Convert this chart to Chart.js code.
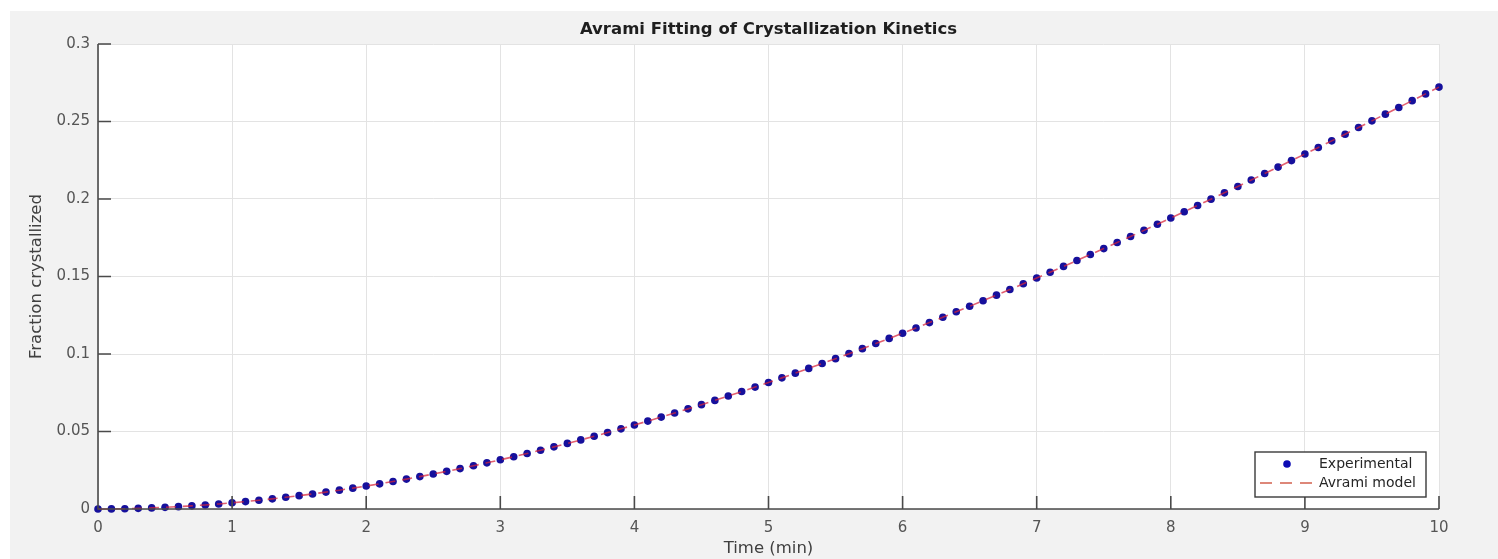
<!DOCTYPE html>
<html>
<head>
<meta charset="utf-8">
<script src="https://cdn.jsdelivr.net/npm/chart.js@4.4.0/dist/chart.umd.min.js"></script>
<style>
html,body{margin:0;padding:0;background:#fff;}
#wrap{width:1498px;height:559px;}
</style>
</head>
<body>
<div id="wrap"><canvas id="avramiChart" width="1498" height="559"></canvas></div>
<script>
// time samples (min)
const timeMin = [
  0, 0.1, 0.2, 0.3, 0.4, 0.5, 0.6, 0.7, 0.8, 0.9,
  1, 1.1, 1.2, 1.3, 1.4, 1.5, 1.6, 1.7, 1.8, 1.9,
  2, 2.1, 2.2, 2.3, 2.4, 2.5, 2.6, 2.7, 2.8, 2.9,
  3, 3.1, 3.2, 3.3, 3.4, 3.5, 3.6, 3.7, 3.8, 3.9,
  4, 4.1, 4.2, 4.3, 4.4, 4.5, 4.6, 4.7, 4.8, 4.9,
  5, 5.1, 5.2, 5.3, 5.4, 5.5, 5.6, 5.7, 5.8, 5.9,
  6, 6.1, 6.2, 6.3, 6.4, 6.5, 6.6, 6.7, 6.8, 6.9,
  7, 7.1, 7.2, 7.3, 7.4, 7.5, 7.6, 7.7, 7.8, 7.9,
  8, 8.1, 8.2, 8.3, 8.4, 8.5, 8.6, 8.7, 8.8, 8.9,
  9, 9.1, 9.2, 9.3, 9.4, 9.5, 9.6, 9.7, 9.8, 9.9,
  10
];

// measured fraction crystallized (dots)
const fracExperimental = [
  0, 0.00005, 0.00019, 0.00041, 0.00070, 0.00107, 0.00151, 0.00203, 0.00261, 0.00327,
  0.00399, 0.00478, 0.00564, 0.00656, 0.00755, 0.00860, 0.00972, 0.01090, 0.01215, 0.01345,
  0.01482, 0.01624, 0.01773, 0.01928, 0.02089, 0.02255, 0.02428, 0.02606, 0.02789, 0.02979,
  0.03174, 0.03375, 0.03581, 0.03792, 0.04009, 0.04231, 0.04458, 0.04691, 0.04929, 0.05171,
  0.05419, 0.05672, 0.05930, 0.06192, 0.06460, 0.06732, 0.07008, 0.07290, 0.07576, 0.07866,
  0.08161, 0.08460, 0.08764, 0.09072, 0.09384, 0.09700, 0.10021, 0.10345, 0.10673, 0.11006,
  0.11341, 0.11681, 0.12025, 0.12372, 0.12723, 0.13077, 0.13435, 0.13796, 0.14161, 0.14529,
  0.14900, 0.15274, 0.15651, 0.16032, 0.16415, 0.16801, 0.17191, 0.17583, 0.17977, 0.18374,
  0.18774, 0.19176, 0.19581, 0.19989, 0.20398, 0.20810, 0.21224, 0.21641, 0.22059, 0.22479,
  0.22902, 0.23326, 0.23752, 0.24180, 0.24610, 0.25041, 0.25474, 0.25908, 0.26344, 0.26781,
  0.27220
];

// fitted Avrami curve (dashed line), lies on top of the dots
const fracAvrami = [
  0, 0.00005, 0.00019, 0.00041, 0.00070, 0.00107, 0.00151, 0.00203, 0.00261, 0.00327,
  0.00399, 0.00478, 0.00564, 0.00656, 0.00755, 0.00860, 0.00972, 0.01090, 0.01215, 0.01345,
  0.01482, 0.01624, 0.01773, 0.01928, 0.02089, 0.02255, 0.02428, 0.02606, 0.02789, 0.02979,
  0.03174, 0.03375, 0.03581, 0.03792, 0.04009, 0.04231, 0.04458, 0.04691, 0.04929, 0.05171,
  0.05419, 0.05672, 0.05930, 0.06192, 0.06460, 0.06732, 0.07008, 0.07290, 0.07576, 0.07866,
  0.08161, 0.08460, 0.08764, 0.09072, 0.09384, 0.09700, 0.10021, 0.10345, 0.10673, 0.11006,
  0.11341, 0.11681, 0.12025, 0.12372, 0.12723, 0.13077, 0.13435, 0.13796, 0.14161, 0.14529,
  0.14900, 0.15274, 0.15651, 0.16032, 0.16415, 0.16801, 0.17191, 0.17583, 0.17977, 0.18374,
  0.18774, 0.19176, 0.19581, 0.19989, 0.20398, 0.20810, 0.21224, 0.21641, 0.22059, 0.22479,
  0.22902, 0.23326, 0.23752, 0.24180, 0.24610, 0.25041, 0.25474, 0.25908, 0.26344, 0.26781,
  0.27220
];

const xTickValues = [0, 1, 2, 3, 4, 5, 6, 7, 8, 9, 10];
const yTickValues = [0, 0.05, 0.1, 0.15, 0.2, 0.25, 0.3];
const chartTitle = 'Avrami Fitting of Crystallization Kinetics';

const FONT = "'DejaVu Sans', 'Liberation Sans', Arial, sans-serif";
const DOT_COLOR = '#16109c';
const LINE_COLOR = 'rgba(215,35,55,0.72)';

// grey figure background + white axes box
const figureBg = {
  id: 'figureBg',
  beforeDraw(chart) {
    const {ctx, chartArea: a, width, height} = chart;
    ctx.save();
    ctx.fillStyle = '#ffffff';
    ctx.fillRect(0, 0, width, height);
    ctx.fillStyle = '#f2f2f2';
    ctx.fillRect(10, 11, width - 10, height - 11);
    ctx.fillStyle = '#ffffff';
    ctx.fillRect(a.left, a.top, a.right - a.left, a.bottom - a.top);
    ctx.restore();
  }
};

// left/bottom axis lines with inward ticks (box off), title centred over the axes
const matlabAxes = {
  id: 'matlabAxes',
  afterDatasetsDraw(chart) {
    const {ctx, chartArea: a, scales: {x, y}} = chart;
    ctx.save();
    ctx.strokeStyle = '#4a4a4a';
    ctx.lineWidth = 1.6;
    ctx.beginPath();
    ctx.moveTo(a.left, a.top);
    ctx.lineTo(a.left, a.bottom);
    ctx.lineTo(a.right, a.bottom);
    x.ticks.forEach(t => {
      const px = x.getPixelForValue(t.value);
      ctx.moveTo(px, a.bottom);
      ctx.lineTo(px, a.bottom - 13);
    });
    y.ticks.forEach(t => {
      const py = y.getPixelForValue(t.value);
      ctx.moveTo(a.left, py);
      ctx.lineTo(a.left + 13, py);
    });
    ctx.stroke();

    ctx.fillStyle = '#1e1e1e';
    ctx.font = 'bold 16.5px ' + FONT;
    ctx.textAlign = 'center';
    ctx.textBaseline = 'middle';
    ctx.fillText(chartTitle, (a.left + a.right) / 2, a.top - 14);
    ctx.restore();
  }
};

// legend box in lower right corner of the axes
const cornerLegend = {
  id: 'cornerLegend',
  afterDraw(chart) {
    const {ctx, chartArea: a} = chart;
    const w = 171, h = 45;
    const right = a.right - 13, bottom = a.bottom - 12;
    const left = right - w, top = bottom - h;
    ctx.save();
    ctx.fillStyle = '#ffffff';
    ctx.fillRect(left, top, w, h);
    ctx.strokeStyle = '#3a3a3a';
    ctx.lineWidth = 1.4;
    ctx.strokeRect(left, top, w, h);

    const row1 = top + 12, row2 = top + 31;
    ctx.fillStyle = '#0d0cb4';
    ctx.beginPath();
    ctx.arc(left + 32, row1, 3.8, 0, Math.PI * 2);
    ctx.fill();

    ctx.strokeStyle = '#d2604e';
    ctx.lineWidth = 1.6;
    ctx.setLineDash([12, 8]);
    ctx.beginPath();
    ctx.moveTo(left + 5, row2);
    ctx.lineTo(left + 58, row2);
    ctx.stroke();
    ctx.setLineDash([]);

    ctx.fillStyle = '#262626';
    ctx.font = '14px ' + FONT;
    ctx.textAlign = 'left';
    ctx.textBaseline = 'middle';
    ctx.fillText('Experimental', left + 64, row1);
    ctx.fillText('Avrami model', left + 64, row2);
    ctx.restore();
  }
};

const expPoints = timeMin.map((t, i) => ({x: t, y: fracExperimental[i]}));
const fitPoints = timeMin.map((t, i) => ({x: t, y: fracAvrami[i]}));

new Chart(document.getElementById('avramiChart'), {
  type: 'scatter',
  data: {
    datasets: [
      {
        label: 'Experimental',
        data: expPoints,
        showLine: false,
        pointRadius: 3.8,
        pointBorderWidth: 0,
        pointBackgroundColor: DOT_COLOR,
        borderColor: DOT_COLOR,
        clip: false,
        order: 2
      },
      {
        label: 'Avrami model',
        data: fitPoints,
        showLine: true,
        pointRadius: 0,
        borderColor: LINE_COLOR,
        borderWidth: 1.6,
        borderDash: [10, 7],
        tension: 0,
        clip: false,
        order: 1
      }
    ]
  },
  options: {
    responsive: false,
    animation: false,
    layout: {padding: {left: 0, top: 44, right: 59, bottom: 0}},
    plugins: {
      legend: {display: false},
      tooltip: {enabled: false},
      title: {display: false}
    },
    scales: {
      x: {
        type: 'linear',
        position: 'bottom',
        min: 0,
        max: 10,
        afterBuildTicks: s => { s.ticks = xTickValues.map(v => ({value: v})); },
        afterFit: s => { s.height = 50; },
        grid: {color: '#e3e3e3', lineWidth: 1, drawTicks: false},
        border: {display: false},
        ticks: {
          color: '#555555',
          padding: 10,
          font: {family: FONT, size: 15},
          callback: v => String(v)
        },
        title: {
          display: true,
          text: 'Time (min)',
          color: '#404040',
          font: {family: FONT, size: 16.5},
          padding: {top: 0, bottom: 0}
        }
      },
      y: {
        type: 'linear',
        min: 0,
        max: 0.3,
        afterBuildTicks: s => { s.ticks = yTickValues.map(v => ({value: v})); },
        afterFit: s => { s.width = 98; },
        grid: {color: '#e3e3e3', lineWidth: 1, drawTicks: false},
        border: {display: false},
        ticks: {
          color: '#555555',
          padding: 8,
          font: {family: FONT, size: 15},
          callback: v => String(+v.toFixed(2))
        },
        title: {
          display: true,
          text: 'Fraction crystallized',
          color: '#404040',
          font: {family: FONT, size: 16.5},
          padding: {top: 27, bottom: 0}
        }
      }
    }
  },
  plugins: [figureBg, matlabAxes, cornerLegend]
});
</script>
</body>
</html>
